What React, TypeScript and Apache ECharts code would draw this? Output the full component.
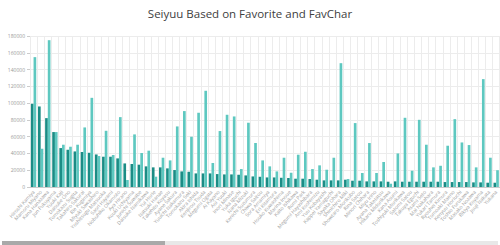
import React, { useEffect, useRef } from "react";
import * as echarts from "echarts";

const names: string[] = [
  "Hiroshi Kamiya", "Mamoru Miyano", "Kana Hanazawa", "Jun Fukuyama", "Yuuki Kaji",
  "Daisuke Ono", "Tomokazu Sugita", "Takahiro Sakurai", "Rie Kugimiya", "Miyuki Sawashiro",
  "Yoshitsugu Matsuoka", "Saori Hayami", "Nobuhiko Okamoto", "Aya Hirano", "Kouki Uchiyama",
  "Junichi Suwabe", "Daisuke Namikawa", "Yui Horie", "Natsuki Hanae", "Takehito Koyasu",
  "Ayane Sakura", "Yuuichi Nakamura", "Tomokazu Seki", "Akira Ishida", "Kenjirou Tsuda",
  "Megumi Ogata", "Ai Kayano", "Aoi Yuuki", "Inori Minase", "Yuka Iguchi",
  "Nana Mizuki", "Kenichi Suzumura", "Chiwa Saitou", "Sora Amamiya", "Eri Kitamura",
  "Houko Kuwashima", "Marina Inoue", "Kaito Ishikawa", "Romi Park", "Megumi Hayashibara",
  "Ami Koshimizu", "Yuu Kobayashi", "Kappei Yamaguchi", "Sayaka Ohara", "Shinichiro Miki",
  "Showtaro Morikubo", "Rina Satou", "Minori Chihara", "Miyu Irino", "Ayana Taketatsu",
  "Hikaru Midorikawa", "Kana Asumi", "Toshiyuki Morikawa", "Satomi Satou", "Takuya Eguchi",
  "Asami Seto", "Mai Nakahara", "Yukari Tamura", "Ryouhei Kimura", "Tomoaki Maeno",
  "Kenyuu Horiuchi", "Toshio Furukawa", "Masako Nozawa", "Rikiya Koyama", "Jouji Nakata",
  "Yukana",
];

const favorites: number[] = [
  99200, 96000, 82100, 65500, 46400, 44400, 42400, 41700, 40800, 38800,
  36100, 36100, 34100, 28100, 27400, 26600, 24600, 23400, 23400, 22200,
  20200, 18600, 18200, 16200, 16200, 16200, 15400, 15000, 15000, 14600,
  13800, 12600, 12200, 11400, 11400, 11000, 10700, 9900, 9900, 9500,
  8700, 7900, 7900, 7900, 8700, 7500, 7500, 6700, 6700, 6700,
  6300, 6700, 6300, 6300, 6300, 6300, 6300, 6300, 5900, 5900,
  5900, 5900, 5500, 5500, 5100, 5100,
];

const favChar: number[] = [
  154800, 45600, 175000, 65500, 50400, 48000, 50400, 71000, 106300, 36900,
  67000, 38100, 83300, 8300, 62700, 40500, 43300, 12300, 34900, 31700,
  72200, 90500, 59900, 88500, 114700, 28600, 66700, 86100, 84100, 21400,
  76600, 52400, 31700, 24600, 18600, 34900, 17000, 38500, 42000, 21400,
  25800, 20600, 34900, 147600, 9500, 76200, 16700, 52400, 16700, 29800,
  3900, 40000, 82500, 19400, 80100, 50400, 23400, 25300, 49200, 80900,
  53100, 50000, 23400, 128600, 34900, 20000,
];

const yTicks = { min: 0, max: 180000, interval: 20000 };

export default function App() {
  const ref = useRef<HTMLDivElement>(null);
  useEffect(() => {
    if (!ref.current) return;
    const chart = echarts.init(ref.current, undefined, { renderer: "svg" });
    chart.setOption({
      animation: false,
      backgroundColor: "#ffffff",
      textStyle: { fontFamily: "Open Sans, Noto Sans, sans-serif" },
      title: {
        text: "Seiyuu Based on Favorite and FavChar",
        left: "center",
        top: 2,
        textStyle: { fontSize: 11.5, fontWeight: "normal", color: "#404040", fontFamily: "Open Sans" },
      },
      grid: { left: 30, top: 36, width: 476, bottom: 58, containLabel: false },
      xAxis: {
        type: "category",
        data: names,
        boundaryGap: true,
        axisLine: { show: true, lineStyle: { color: "#cccccc" } },
        axisTick: { show: false },
        splitLine: { show: true, lineStyle: { color: "#ececec", width: 1 } },
        axisLabel: { rotate: 48, interval: 0, fontSize: 5, color: "#a0a0a0", margin: 4 },
      },
      yAxis: {
        type: "value",
        min: yTicks.min,
        max: yTicks.max,
        interval: yTicks.interval,
        axisLine: { show: false },
        axisTick: { show: true, length: 3, lineStyle: { color: "#cccccc" } },
        splitLine: { show: true, lineStyle: { color: "#ececec" } },
        axisLabel: { fontSize: 5, color: "#9a9a9a", margin: 5, formatter: (v: number) => String(v) },
      },
      series: [
        {
          name: "Favorite",
          type: "bar",
          data: favorites,
          barGap: "0%",
          barCategoryGap: "25%",
          itemStyle: { color: "#1b8c85" },
        },
        {
          name: "FavChar",
          type: "bar",
          data: favChar,
          itemStyle: { color: "#5ec8c0" },
        },
      ],
      graphic: [
        { type: "rect", left: 2, top: 241, shape: { width: 496, height: 5 }, style: { fill: "#e8e8e8" } },
        { type: "rect", left: 2, top: 241, shape: { width: 163, height: 5 }, style: { fill: "#a9a9a9" } },
      ],
    });
    return () => chart.dispose();
  }, []);
  return (
    <div
      ref={ref}
      style={{ position: "fixed", left: 0, top: 0, width: 500, height: 245 }}
    />
  );
}
